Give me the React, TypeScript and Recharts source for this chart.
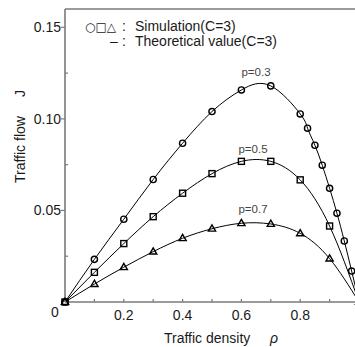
import React from 'react';
import { LineChart, Line, XAxis, YAxis } from 'recharts';

// Traffic density (rho) and traffic flow (J)
const rhoP03 = [0, 0.1, 0.2, 0.3, 0.4, 0.5, 0.6, 0.7, 0.8, 0.825, 0.85, 0.875, 0.9, 0.925, 0.95, 0.975, 1.0];
const flowP03 = [0, 0.0233, 0.0452, 0.0669, 0.0867, 0.104, 0.1158, 0.118, 0.1027, 0.0949, 0.0856, 0.0747, 0.0621, 0.0485, 0.0333, 0.0169, 0];

const rhoP05 = [0, 0.1, 0.2, 0.3, 0.4, 0.5, 0.6, 0.7, 0.8, 0.9, 1.0];
const flowP05 = [0, 0.0162, 0.0319, 0.0466, 0.0594, 0.0701, 0.0768, 0.0768, 0.0667, 0.0415, 0];

const rhoP07 = [0, 0.1, 0.2, 0.3, 0.4, 0.5, 0.6, 0.7, 0.8, 0.9, 1.0];
const flowP07 = [0, 0.0098, 0.019, 0.0275, 0.0348, 0.04, 0.043, 0.0426, 0.0375, 0.0237, 0];

const xTicks = [0, 0.1, 0.2, 0.3, 0.4, 0.5, 0.6, 0.7, 0.8, 0.9, 1.0];
const xLabelValues = [0, 0.2, 0.4, 0.6, 0.8];
const xLabelTexts = ['0', '0.2', '0.4', '0.6', '0.8'];
const yTicks = [0, 0.025, 0.05, 0.075, 0.1, 0.125, 0.15];
const yLabelValues = [0.05, 0.1, 0.15];
const yLabelTexts = ['0.05', '0.10', '0.15'];

const AXIS = '#7a7a7a';
const TXT = '#1a1a1a';
const FONT = 'Liberation Sans, Arial, sans-serif';

const rows = (xs: number[], ys: number[]) => xs.map((x, i) => ({ x, y: ys[i] }));
const dataP03 = rows(rhoP03, flowP03);
const dataP05 = rows(rhoP05, flowP05);
const dataP07 = rows(rhoP07, flowP07);

const near = (a: number, b: number) => Math.abs(a - b) < 1e-9;

const BottomTick = (props: any) => {
  const { x, y, payload } = props;
  const v = payload.value;
  const li = xLabelValues.findIndex((t) => near(t, v));
  const isEdge = near(v, 0) || near(v, 1);
  return (
    <g>
      {!isEdge && <line x1={x} y1={y} x2={x} y2={y - 3} stroke={AXIS} strokeWidth={1.2} />}
      {li >= 0 && (
        <text x={near(v, 0) ? x - 10 : x} y={near(v, 0) ? y + 15 : y + 18} textAnchor="middle" fontSize={14} fontFamily={FONT} fill={TXT}>
          {xLabelTexts[li]}
        </text>
      )}
    </g>
  );
};

const TopTick = (props: any) => {
  const { x, y, payload } = props;
  const v = payload.value;
  if (near(v, 0) || near(v, 1)) return <g />;
  return <line x1={x} y1={y} x2={x} y2={y + 3} stroke={AXIS} strokeWidth={1.2} />;
};

const LeftTick = (props: any) => {
  const { x, y, payload } = props;
  const v = payload.value;
  if (near(v, 0)) return <g />;
  const li = yLabelValues.findIndex((t) => near(t, v));
  return (
    <g>
      {li >= 0 ? (
        <line x1={x - 4} y1={y} x2={x} y2={y} stroke={AXIS} strokeWidth={1.2} />
      ) : (
        <line x1={x} y1={y} x2={x + 3} y2={y} stroke={AXIS} strokeWidth={1.2} />
      )}
      {li >= 0 && (
        <text x={x - 4} y={y + 5} textAnchor="end" fontSize={14} fontFamily={FONT} fill={TXT}>
          {yLabelTexts[li]}
        </text>
      )}
    </g>
  );
};

const RightTick = (props: any) => {
  const { x, y, payload } = props;
  const v = payload.value;
  if (near(v, 0)) return <g />;
  return <line x1={x} y1={y} x2={x - 4} y2={y} stroke={AXIS} strokeWidth={1.2} />;
};

const CircleDot = (props: any) => {
  const { cx, cy, index } = props;
  return <circle key={`c${index}`} cx={cx} cy={cy} r={3.1} fill="none" stroke="#000" strokeWidth={1.4} />;
};
const SquareDot = (props: any) => {
  const { cx, cy, index } = props;
  return <rect key={`s${index}`} x={cx - 3} y={cy - 3} width={6} height={6} fill="none" stroke="#000" strokeWidth={1.4} />;
};
const TriDot = (props: any) => {
  const { cx, cy, index } = props;
  return (
    <polygon
      key={`t${index}`}
      points={`${cx},${cy - 3.8} ${cx - 3.6},${cy + 2.4} ${cx + 3.6},${cy + 2.4}`}
      fill="none"
      stroke="#000"
      strokeWidth={1.4}
    />
  );
};

export default function App() {
  return (
    <div style={{ position: 'absolute', left: 0, top: 0, width: 355, height: 347, overflow: 'hidden', background: '#fff' }}>
      <LineChart width={360} height={347} margin={{ top: 8, right: 0, bottom: 0, left: 0 }}>
        <XAxis
          xAxisId="b"
          type="number"
          dataKey="x"
          domain={[0, 1]}
          ticks={xTicks}
          height={45}
          tickSize={0}
          tickMargin={0}
          tick={<BottomTick />}
          tickLine={false}
          axisLine={{ stroke: AXIS, strokeWidth: 1.6 }}
          interval={0}
        />
        <XAxis
          xAxisId="t"
          orientation="top"
          type="number"
          dataKey="x"
          domain={[0, 1]}
          ticks={xTicks}
          height={1}
          tickSize={0}
          tickMargin={0}
          tick={<TopTick />}
          tickLine={false}
          axisLine={{ stroke: AXIS, strokeWidth: 1.6 }}
          interval={0}
        />
        <YAxis
          yAxisId="l"
          type="number"
          domain={[0, 0.16]}
          ticks={yTicks}
          width={65}
          tickSize={0}
          tickMargin={0}
          tick={<LeftTick />}
          tickLine={false}
          axisLine={{ stroke: AXIS, strokeWidth: 1.6 }}
          interval={0}
        />
        <YAxis
          yAxisId="r"
          orientation="right"
          type="number"
          domain={[0, 0.16]}
          ticks={yLabelValues}
          width={1}
          tickSize={0}
          tickMargin={0}
          tick={<RightTick />}
          tickLine={false}
          axisLine={{ stroke: AXIS, strokeWidth: 1.6 }}
          interval={0}
        />
        <Line xAxisId="b" yAxisId="l" data={dataP03} dataKey="y" type="natural" stroke="#000" strokeWidth={1} dot={CircleDot} isAnimationActive={false} />
        <Line xAxisId="b" yAxisId="l" data={dataP05} dataKey="y" type="natural" stroke="#000" strokeWidth={1} dot={SquareDot} isAnimationActive={false} />
        <Line xAxisId="b" yAxisId="l" data={dataP07} dataKey="y" type="natural" stroke="#000" strokeWidth={1} dot={TriDot} isAnimationActive={false} />
      </LineChart>
      <svg width={355} height={347} style={{ position: 'absolute', left: 0, top: 0, pointerEvents: 'none' }}>
        <g fontFamily={FONT} fill={TXT}>
          <text x={85} y={31} fontSize={12} fontFamily="DejaVu Sans" fill={TXT}>○□△</text>
          <text x={122} y={31} fontSize={14}>:</text>
          <text x={135} y={31} fontSize={14}>Simulation(C=3)</text>
          <text x={110} y={46} fontSize={14}>–</text>
          <text x={122} y={46} fontSize={14}>:</text>
          <text x={135} y={46} fontSize={14}>Theoretical value(C=3)</text>
          <text x={256} y={76} fontSize={11.5} textAnchor="middle" fill="#444">p=0.3</text>
          <text x={253} y={153} fontSize={11.5} textAnchor="middle" fill="#444">p=0.5</text>
          <text x={253} y={213} fontSize={11.5} textAnchor="middle" fill="#444">p=0.7</text>
          <text x={164} y={343} fontSize={14}>Traffic density</text>
          <text x={270} y={343} fontSize={14} fontStyle="italic">ρ</text>
          <text x={25} y={183} fontSize={14} transform="rotate(-90, 25, 183)">Traffic flow</text>
          <text x={25} y={97} fontSize={14} transform="rotate(-90, 25, 97)">J</text>
        </g>
      </svg>
    </div>
  );
}
